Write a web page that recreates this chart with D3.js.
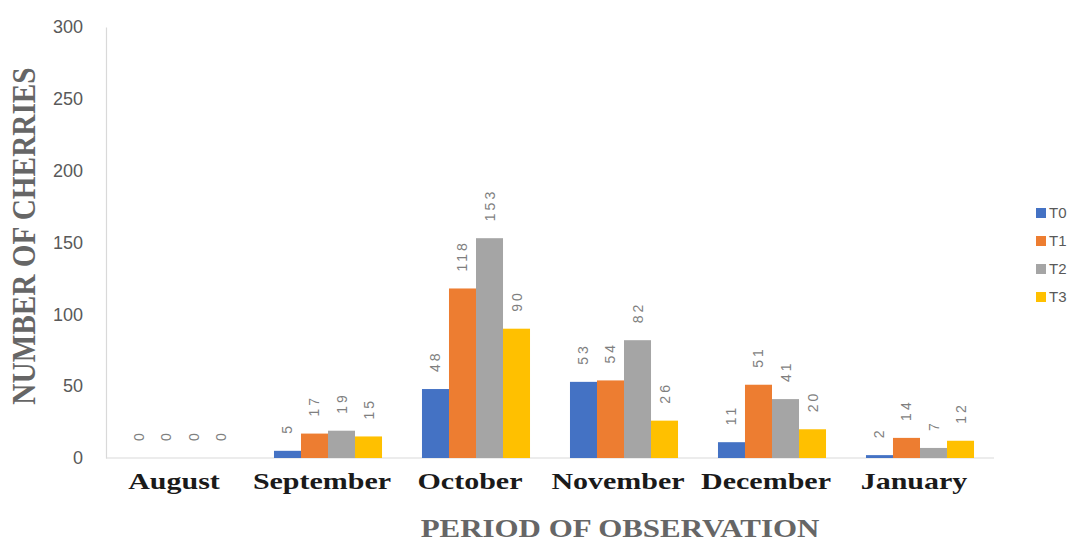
<!DOCTYPE html>
<html>
<head>
<meta charset="utf-8">
<script src="https://cdn.jsdelivr.net/npm/d3@7"></script>
<style>
  html, body { margin: 0; padding: 0; background: #ffffff; }
  svg { display: block; }
</style>
</head>
<body>
<svg id="chart" width="1081" height="543"></svg>
<script>
// Cherries counted per month for each treatment
const months = ["August", "September", "October", "November", "December", "January"];
const seriesNames = ["T0", "T1", "T2", "T3"];
const T0 = [0, 5, 48, 53, 11, 2];
const T1 = [0, 17, 118, 54, 51, 14];
const T2 = [0, 19, 153, 82, 41, 7];
const T3 = [0, 15, 90, 26, 20, 12];
const yTicks = [0, 50, 100, 150, 200, 250, 300];
const seriesColors = ["#4472C4", "#ED7D31", "#A5A5A5", "#FFC000"];

const seriesValues = [T0, T1, T2, T3];
const rows = months.map((m, i) => ({
  month: m,
  values: seriesNames.map((s, k) => ({ key: s, value: seriesValues[k][i] }))
}));

const svg = d3.select("#chart");
const plot = { left: 106, right: 994, top: 27, bottom: 458 };

const x = d3.scaleBand().domain(months).range([plot.left, plot.right]).paddingInner(0.27).paddingOuter(0.135);
const xInner = d3.scaleBand().domain(seriesNames).range([0, x.bandwidth()]);
const y = d3.scaleLinear().domain([0, 300]).range([plot.bottom, plot.top]);

// y axis: light line with tick labels, no tick marks
const yAxis = svg.append("g")
  .attr("transform", `translate(${plot.left},0)`)
  .call(d3.axisLeft(y).tickValues(yTicks).tickSize(0).tickPadding(23));
yAxis.select(".domain").attr("stroke", "#d9d9d9").attr("stroke-width", 1.2);
yAxis.selectAll("text")
  .attr("font-family", "Liberation Sans, Arial, sans-serif")
  .attr("font-size", 18)
  .attr("fill", "#595959");

// x axis baseline
svg.append("line")
  .attr("x1", plot.left).attr("x2", plot.right)
  .attr("y1", y(0)).attr("y2", y(0))
  .attr("stroke", "#d9d9d9").attr("stroke-width", 1.2);

// bars
const groups = svg.append("g").selectAll("g")
  .data(rows).join("g")
  .attr("transform", d => `translate(${x(d.month)},0)`);

groups.selectAll("rect")
  .data(d => d.values).join("rect")
  .attr("x", d => xInner(d.key))
  .attr("width", xInner.bandwidth())
  .attr("y", d => y(d.value))
  .attr("height", d => y(0) - y(d.value))
  .attr("fill", (d, i) => seriesColors[i]);

// rotated value labels above bars
groups.selectAll("text")
  .data(d => d.values).join("text")
  .attr("transform", d => `translate(${xInner(d.key) + xInner.bandwidth() / 2 + 5},${y(d.value) - 17}) rotate(-90)`)
  .attr("text-anchor", "start")
  .attr("font-family", "Liberation Sans, Arial, sans-serif")
  .attr("font-size", 14)
  .attr("letter-spacing", 3)
  .attr("fill", "#7f7f7f")
  .text(d => d.value);

// month labels
svg.append("g").selectAll("text")
  .data(months).join("text")
  .attr("transform", d => `translate(${x(d) + x.bandwidth() / 2 - 6},489) scale(1.25,1)`)
  .attr("text-anchor", "middle")
  .attr("font-family", "Liberation Serif, Times New Roman, serif")
  .attr("font-weight", "bold")
  .attr("font-size", 24)
  .attr("fill", "#1a1a1a")
  .text(d => d);

// axis titles
svg.append("text")
  .attr("transform", "translate(620,537) scale(1.19,1)")
  .attr("text-anchor", "middle")
  .attr("font-family", "Liberation Serif, Times New Roman, serif")
  .attr("font-weight", "bold")
  .attr("font-size", 26)
  .attr("fill", "#666666")
  .text("PERIOD OF OBSERVATION");

svg.append("text")
  .attr("transform", "translate(35,236) rotate(-90) scale(1.01,1.15)")
  .attr("text-anchor", "middle")
  .attr("font-family", "Liberation Serif, Times New Roman, serif")
  .attr("font-weight", "bold")
  .attr("font-size", 29)
  .attr("fill", "#666666")
  .text("NUMBER OF CHERRIES");

// legend
const legend = svg.append("g").attr("transform", "translate(1036,208)");
const items = legend.selectAll("g").data(seriesNames).join("g")
  .attr("transform", (d, i) => `translate(0,${i * 28})`);
items.append("rect")
  .attr("width", 10).attr("height", 10)
  .attr("fill", (d, i) => seriesColors[i]);
items.append("text")
  .attr("x", 13).attr("y", 10)
  .attr("font-family", "Liberation Sans, Arial, sans-serif")
  .attr("font-size", 15)
  .attr("fill", "#595959")
  .text(d => d);
</script>
</body>
</html>
